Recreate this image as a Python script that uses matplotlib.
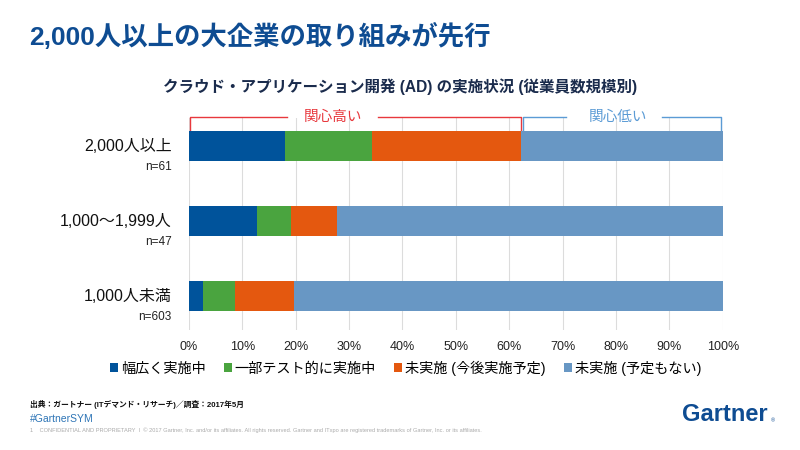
import numpy as np
import matplotlib.pyplot as plt

plt.rcParams['font.family'] = ['Liberation Sans', 'Noto Sans CJK JP', 'DejaVu Sans']

# data (percent of respondents)
groups = ['2,000人以上', '1,000～1,999人', '1,000人未満']
sizes = ['n=61', 'n=47', 'n=603']
series = ['幅広く実施中', '一部テスト的に実施中', '未実施 (今後実施予定)', '未実施 (予定もない)']
wide = [18.0, 12.8, 2.7]
partial = [16.4, 6.4, 5.9]
planned = [27.9, 8.5, 11.1]
no_plan = [37.7, 72.3, 80.3]
ticks = list(range(0, 101, 10))

colors = ['#00539B', '#4AA43F', '#E4580F', '#6897C4']
navy = '#0E4C92'

fig = plt.figure(figsize=(8, 4.5), dpi=100)
ax = fig.add_axes([0.236, 0.2667, 0.6675, 0.471])

y = np.arange(len(groups))
left = np.zeros(len(groups))
for vals, col, name in zip([wide, partial, planned, no_plan], colors, series):
    ax.barh(y, vals, left=left, height=0.39, color=col, label=name, zorder=3)
    left += np.array(vals)

ax.set_xlim(0, 100)
ax.set_ylim(2.453, -0.373)
ax.set_xticks(ticks)
ax.set_xticklabels([f'{t}%' for t in ticks], fontsize=9, color='#222222')
ax.set_yticks([])
ax.tick_params(axis='x', length=0, pad=8)
ax.grid(axis='x', color='#DCDCDC', linewidth=0.8, zorder=0)
for s in ax.spines.values():
    s.set_visible(False)

# category labels
for i in y:
    ax.text(-0.032, i, groups[i], transform=ax.get_yaxis_transform(),
            ha='right', va='center', fontsize=11.5, color='#111111')
    ax.text(-0.032, i + 0.28, sizes[i], transform=ax.get_yaxis_transform(),
            ha='right', va='center', fontsize=8.5, color='#222222')

# brackets above the first bar
split = wide[0] + partial[0] + planned[0]
top, leg = -0.39, -0.2
red, blue = '#E8383D', '#5B9BD5'
ax.plot([0.3, 0.3, 18.4], [leg, top, top], color=red, lw=1, clip_on=False)
ax.plot([35.4, split, split], [top, top, leg], color=red, lw=1, clip_on=False)
ax.text(27.0, top, '関心高い', color=red, fontsize=10.5, ha='center', va='center')
ax.plot([split + 0.3, split + 0.3, 70.6], [leg, top, top], color=blue, lw=1, clip_on=False)
ax.plot([88.6, 99.7, 99.7], [top, top, leg], color=blue, lw=1, clip_on=False)
ax.text(80.3, top, '関心低い', color=blue, fontsize=10.5, ha='center', va='center')

fig.legend(loc='center', bbox_to_anchor=(0.507, 0.182), ncol=4, frameon=False,
           fontsize=10.2, handlelength=0.55, handleheight=0.55, handletextpad=0.2,
           columnspacing=1.3)

fig.text(0.037, 0.918, '2,000人以上の大企業の取り組みが先行', fontsize=19,
         fontweight='bold', color=navy, va='center')
fig.text(0.5, 0.807, 'クラウド・アプリケーション開発 (AD) の実施状況 (従業員数規模別)',
         fontsize=11.2, fontweight='bold', color='#1A2B4C', ha='center', va='center')

fig.text(0.037, 0.102, '出典：ガートナー (ITデマンド・リサーチ)／調査：2017年5月',
         fontsize=5.6, fontweight='bold', color='#111111', va='center')
fig.text(0.037, 0.069, '#GartnerSYM', fontsize=7.5, color='#2E75B6', va='center')
fig.text(0.037, 0.045, '1    CONFIDENTIAL AND PROPRIETARY  I  © 2017 Gartner, Inc. and/or its affiliates. '
         'All rights reserved. Gartner and ITxpo are registered trademarks of Gartner, Inc. or its affiliates.',
         fontsize=4.1, color='#AAAAAA', va='center')
fig.text(0.96, 0.078, 'Gartner', fontsize=17, fontweight='bold', color=navy,
         ha='right', va='center')
fig.text(0.963, 0.064, '®', fontsize=4, color=navy, ha='left', va='center')

fig.savefig('out.png', dpi=100)
